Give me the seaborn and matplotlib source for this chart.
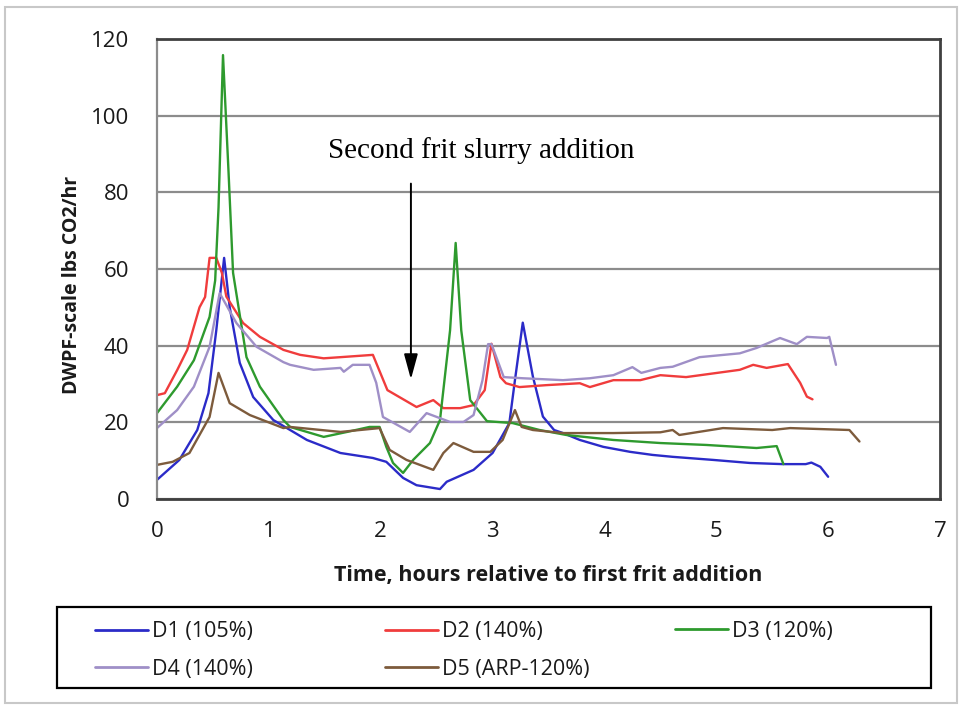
import numpy as np
import pandas as pd
import matplotlib
matplotlib.use("Agg")
import matplotlib.pyplot as plt
from matplotlib.patches import Rectangle
import seaborn as sns

# ---------------- data ----------------
series_names = ["D1 (105%)", "D2 (140%)", "D3 (120%)", "D4 (140%)", "D5 (ARP-120%)"]
series_colors = ["#2B2BC8", "#F03C3C", "#2E9A2E", "#9F8FC7", "#7D5B3C"]

d1_t = [0.0, 0.2, 0.36, 0.46, 0.53, 0.6, 0.65, 0.74, 0.86, 1.04, 1.34, 1.64, 1.93, 2.05,
        2.2, 2.32, 2.53, 2.59, 2.83, 3.0, 3.15, 3.2, 3.27, 3.36, 3.45, 3.55, 3.63, 3.78,
        3.99, 4.23, 4.43, 4.61, 4.97, 5.3, 5.59, 5.8, 5.85, 5.93, 6.0]
d1_v = [5.0, 10.2, 18.0, 27.6, 44.0, 62.9, 50.0, 35.5, 26.6, 20.6, 15.4, 12.0, 10.7, 9.7,
        5.5, 3.6, 2.6, 4.5, 7.6, 12.0, 19.8, 31.0, 46.0, 32.0, 21.5, 18.0, 17.2, 15.4,
        13.6, 12.3, 11.5, 11.0, 10.2, 9.4, 9.1, 9.1, 9.5, 8.4, 5.8]

d2_t = [0.0, 0.07, 0.18, 0.27, 0.38, 0.43, 0.47, 0.53, 0.58, 0.62, 0.77, 0.92, 1.13, 1.28,
        1.49, 1.64, 1.93, 2.06, 2.32, 2.47, 2.56, 2.71, 2.83, 2.93, 2.99, 3.07, 3.12, 3.24,
        3.48, 3.78, 3.87, 4.08, 4.32, 4.5, 4.73, 5.21, 5.33, 5.45, 5.64, 5.75, 5.81, 5.86]
d2_v = [27.1, 27.6, 33.6, 38.9, 50.0, 52.7, 62.9, 62.9, 59.0, 52.8, 45.9, 42.3, 38.9, 37.6,
        36.7, 37.0, 37.6, 28.4, 24.0, 25.8, 23.7, 23.7, 24.5, 28.4, 40.5, 31.8, 30.2, 29.2,
        29.7, 30.2, 29.2, 31.0, 31.0, 32.3, 31.8, 33.7, 35.0, 34.2, 35.2, 30.3, 26.7, 26.0]

d3_t = [0.0, 0.18, 0.33, 0.47, 0.52, 0.55, 0.59, 0.64, 0.68, 0.8, 0.92, 1.13, 1.19, 1.49,
        1.7, 1.9, 1.99, 2.05, 2.11, 2.2, 2.29, 2.44, 2.53, 2.62, 2.67, 2.72, 2.8, 2.95,
        3.18, 3.42, 3.66, 4.08, 4.5, 4.91, 5.36, 5.54, 5.6]
d3_v = [22.4, 29.3, 36.2, 47.5, 57.0, 76.0, 115.8, 85.0, 59.0, 37.0, 29.3, 20.6, 18.8, 16.2,
        17.5, 18.8, 18.8, 13.6, 9.4, 6.8, 10.2, 14.6, 20.6, 44.0, 66.8, 44.0, 25.8, 20.3,
        19.8, 18.0, 16.7, 15.4, 14.6, 14.1, 13.3, 13.8, 9.1]

d4_t = [0.0, 0.18, 0.33, 0.47, 0.56, 0.71, 0.89, 1.13, 1.19, 1.4, 1.64, 1.67, 1.75, 1.9,
        1.96, 2.02, 2.26, 2.41, 2.62, 2.74, 2.83, 2.91, 2.96, 2.99, 3.1, 3.27, 3.63, 3.87,
        4.08, 4.25, 4.33, 4.5, 4.61, 4.85, 5.21, 5.36, 5.57, 5.72, 5.81, 5.99, 6.01, 6.07]
d4_v = [18.5, 23.2, 29.3, 39.7, 53.7, 45.9, 39.7, 35.7, 35.0, 33.7, 34.2, 33.2, 35.0, 35.0,
        30.3, 21.4, 17.5, 22.4, 20.1, 20.1, 21.9, 31.0, 40.4, 40.4, 31.8, 31.5, 31.0, 31.5,
        32.3, 34.4, 32.9, 34.2, 34.5, 37.0, 38.0, 39.4, 42.0, 40.4, 42.3, 42.0, 42.3, 35.0]

d5_t = [0.0, 0.14, 0.29, 0.47, 0.55, 0.65, 0.83, 1.13, 1.19, 1.64, 1.99, 2.08, 2.23, 2.47,
        2.56, 2.65, 2.83, 2.98, 3.09, 3.2, 3.26, 3.36, 3.63, 4.08, 4.5, 4.61, 4.67, 5.06,
        5.5, 5.66, 6.19, 6.28]
d5_v = [8.9, 9.7, 12.0, 21.4, 32.9, 25.0, 21.9, 18.5, 18.8, 17.5, 18.5, 12.8, 10.2, 7.6,
        12.0, 14.6, 12.3, 12.3, 15.4, 23.2, 18.8, 18.0, 17.2, 17.2, 17.4, 18.0, 16.7, 18.5,
        18.0, 18.5, 18.0, 15.0]

x_ticks = [0, 1, 2, 3, 4, 5, 6, 7]
y_ticks = [0, 20, 40, 60, 80, 100, 120]
x_label = "Time, hours relative to first frit addition"
y_label = "DWPF-scale lbs CO2/hr"
annotation_text = "Second frit slurry addition"

# ---------------- long-form table ----------------
frames = []
for name, t, v in zip(series_names, [d1_t, d2_t, d3_t, d4_t, d5_t],
                      [d1_v, d2_v, d3_v, d4_v, d5_v]):
    frames.append(pd.DataFrame({"t": t, "v": v, "series": name}))
df = pd.concat(frames, ignore_index=True)

# ---------------- style ----------------
sns.set_style("white")
plt.rcParams["font.family"] = ["Open Sans", "DejaVu Sans"]

W, H = 960, 707
fig = plt.figure(figsize=(W / 100, H / 100), dpi=100)
ax = fig.add_axes([157 / W, 1 - 499 / H, (940 - 157) / W, (499 - 39) / H])

palette = dict(zip(series_names, series_colors))
sns.lineplot(data=df, x="t", y="v", hue="series", hue_order=series_names,
             palette=palette, sort=False, estimator=None, units="series",
             linewidth=1.7, legend=False, ax=ax)

ax.set_xlim(0, 7)
ax.set_ylim(0, 120)
ax.set_xticks(x_ticks)
ax.set_yticks(y_ticks)
ax.set_xticklabels([str(v) for v in x_ticks], fontsize=16, color="#1a1a1a")
ax.set_yticklabels([str(v) for v in y_ticks], fontsize=16, color="#1a1a1a")
ax.yaxis.grid(True, color="#8c8c8c", linewidth=1.6)
ax.xaxis.grid(False)
ax.set_axisbelow(True)

for side in ["top", "right", "bottom"]:
    ax.spines[side].set_visible(True)
    ax.spines[side].set_color("#404040")
    ax.spines[side].set_linewidth(2.0)
ax.spines["left"].set_visible(True)
ax.spines["left"].set_color("#8c8c8c")
ax.spines["left"].set_linewidth(1.6)

ax.tick_params(axis="x", direction="out", length=7, width=1.8, color="#404040", pad=9)
ax.tick_params(axis="y", direction="out", length=7, width=1.4, color="#8c8c8c", pad=13)

ax.set_xlabel(x_label, fontsize=15.5, fontweight="bold", color="#1a1a1a")
ax.set_ylabel(y_label, fontsize=14, fontweight="bold", color="#1a1a1a")
ax.xaxis.set_label_coords(0.5, -(575 - 499) / 460)
ax.yaxis.set_label_coords(-(157 - 72) / 783, (499 - 285) / 460)
ax.xaxis.label.set_va("center")
ax.yaxis.label.set_va("center")

# annotation with arrow
ax.annotate("", xy=(2.27, 30.5), xytext=(2.27, 83.0),
            arrowprops=dict(arrowstyle="-|>,head_width=0.3,head_length=1.1",
                            color="black", lw=1.4, mutation_scale=14))
ax.text(2.9, 91.0, annotation_text, ha="center", va="center", fontsize=21,
        family=["Liberation Serif", "DejaVu Serif"], color="black")

# ---------------- legend ----------------
line_handles = [plt.Line2D([], [], color=c, linewidth=2.0) for c in series_colors]
leg_kw = dict(frameon=False, fontsize=15.5, handlelength=2.45, handletextpad=0.2,
              borderpad=0, borderaxespad=0, labelspacing=0.75, labelcolor="#1a1a1a")
col_groups = [([0, 3], 95), ([1, 4], 385), ([2], 675)]
for idxs, xpx in col_groups:
    ycen = (631 + 670) / 2 if len(idxs) == 2 else 631
    fig.legend([line_handles[i] for i in idxs], [series_names[i] for i in idxs],
               loc="center left", bbox_to_anchor=(xpx / W, 1 - ycen / H), **leg_kw)

fig.patches.append(Rectangle((57 / W, 1 - 688 / H), (931 - 57) / W, (688 - 607) / H,
                             transform=fig.transFigure, fill=False,
                             edgecolor="black", linewidth=1.6))
# outer light frame
fig.patches.append(Rectangle((5 / W, 1 - 703 / H), (957 - 5) / W, (703 - 7) / H,
                             transform=fig.transFigure, fill=False,
                             edgecolor="#c8c8c8", linewidth=1.5))

fig.savefig("out.png", dpi=100, facecolor="white")
